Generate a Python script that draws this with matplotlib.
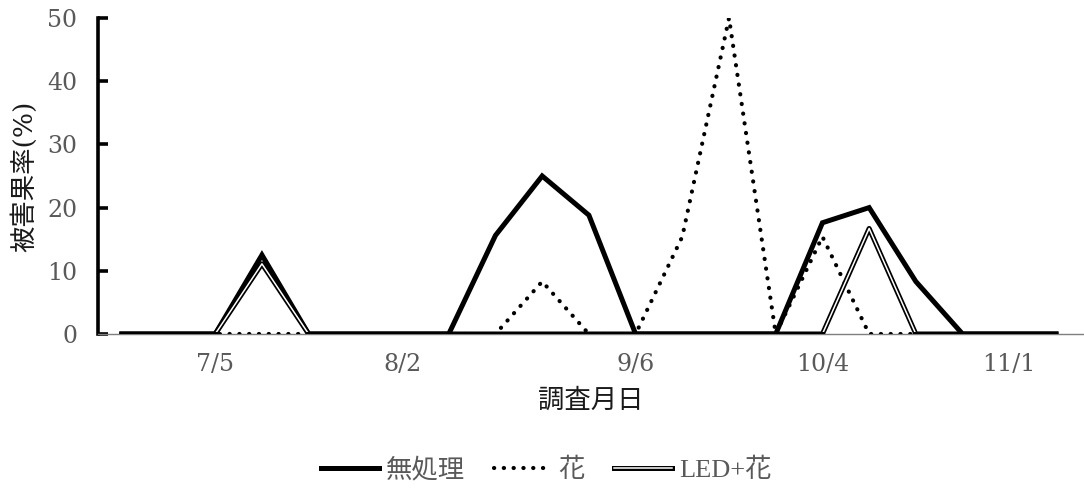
import matplotlib
matplotlib.use("Agg")
import matplotlib.pyplot as plt
from matplotlib.lines import Line2D
from matplotlib.patches import Rectangle

plt.rcParams['font.family'] = ['DejaVu Serif', 'Noto Sans CJK JP']

# 調査日 (週ごと)
dates = ['6/21', '6/28', '7/5', '7/12', '7/19', '7/26', '8/2', '8/9', '8/16',
         '8/23', '8/30', '9/6', '9/13', '9/20', '9/27', '10/4', '10/11',
         '10/18', '10/25', '11/1', '11/8']
label_dates = ['7/5', '8/2', '9/6', '10/4', '11/1']

# 被害果率 (%)
mushori = [0, 0, 0, 12.5, 0, 0, 0, 0, 15.6, 25, 18.8, 0, 0, 0, 0, 17.6, 20, 8.3, 0, 0, 0]
hana = [0, 0, 0, 0, 0, 0, 0, 0, 0, 8.3, 0, 0, 15.4, 50, 0, 15.4, 0, 0, 0, 0, 0]
led_hana = [0, 0, 0, 11.1, 0, 0, 0, 0, 0, 0, 0, 0, 0, 0, 0, 0, 16.7, 0, 0, 0, 0]

x = list(range(len(dates)))
grey = '#595959'
cjk = 19

fig = plt.figure(figsize=(10.84, 4.88), dpi=100)
ax = fig.add_axes([0.0904, 0.3156, 0.9096, 0.6475])

ax.plot(x, mushori, color='black', lw=3.6, solid_joinstyle='miter', zorder=3)
ax.plot(x, hana, color='black', lw=3.0, linestyle=(0, (0.05, 2.3)),
        dash_capstyle='round', zorder=4)
ax.plot(x, led_hana, color='black', lw=3.6, zorder=5)
inner, = ax.plot(x, led_hana, color='white', lw=1.1, zorder=6)
# 二重線の白い芯はゼロ線上では見えないようにする
inner.set_clip_path(Rectangle((-1, 0.35), 30, 100, transform=ax.transData))

ax.set_xlim(-0.51, 20.6)
ax.set_ylim(0, 50)
ax.set_yticks([0, 10, 20, 30, 40, 50])
ax.set_xticks([dates.index(d) for d in label_dates])
ax.set_xticklabels(label_dates)

for s in ['top', 'right']:
    ax.spines[s].set_visible(False)
ax.spines['left'].set_linewidth(2.6)
ax.spines['left'].set_color('black')
ax.spines['bottom'].set_linewidth(1.0)
ax.spines['bottom'].set_color('#7f7f7f')

ax.tick_params(axis='y', direction='in', length=7, width=2.6, color='black',
               labelsize=17, labelcolor=grey, pad=15)
ax.tick_params(axis='x', length=0, labelsize=17, labelcolor=grey, pad=14)

ax.set_ylabel('被害果率(%)', fontsize=cjk, color='#1a1a1a')
ax.yaxis.set_label_coords(-0.062, 0.5)
ax.set_xlabel('調査月日', fontsize=cjk, color='#1a1a1a')
ax.xaxis.set_label_coords(0.5, -0.17)

h1 = Line2D([], [], color='black', lw=3.6)
h2 = Line2D([], [], color='black', lw=3.0, linestyle=(0, (0.05, 2.3)), dash_capstyle='round')
h3 = (Line2D([], [], color='black', lw=3.6), Line2D([], [], color='white', lw=1.1))
fig.legend([h1, h2, h3], ['無処理', '花', 'LED+花'], loc='center', bbox_to_anchor=(0.504, 0.037),
           ncol=3, frameon=False, labelcolor=grey, handlelength=2.2,
           prop={'family': ['Liberation Serif', 'Noto Sans CJK JP'], 'size': cjk},
           handletextpad=0.25, columnspacing=1.1, borderpad=0.2)

fig.savefig('out.png', dpi=100)
